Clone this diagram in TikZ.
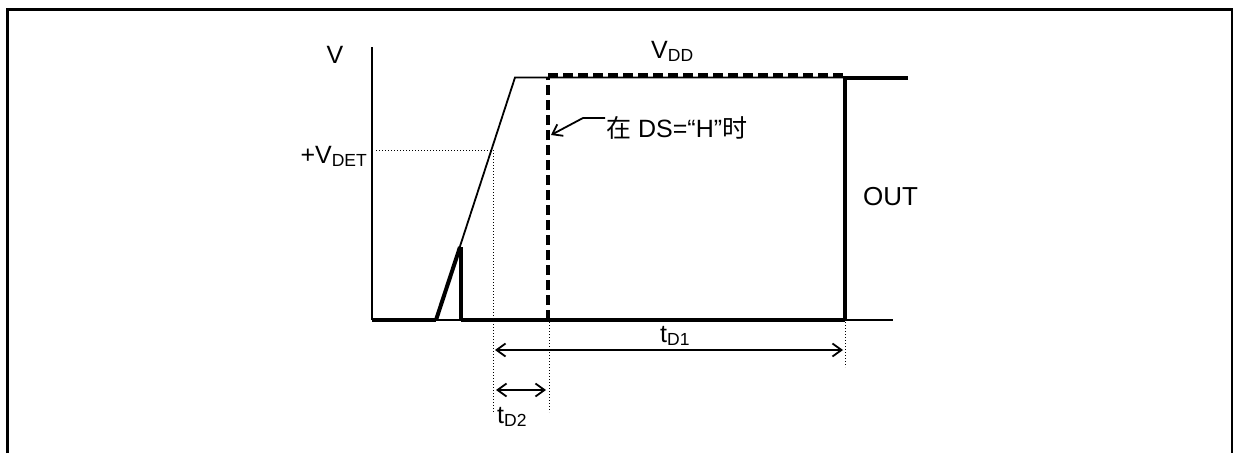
\documentclass[tikz,border=0pt]{standalone}
\usepackage{fontspec}
\setmainfont{Liberation Sans}
\newfontfamily\cjk{Noto Sans CJK SC}
\usetikzlibrary{arrows.meta}
\newcommand{\mysub}[1]{\raisebox{-0.3ex}{\fontsize{17.5}{19}\selectfont #1}}
\tikzset{
  thinln/.style={line width=1.8pt},
  thickln/.style={line width=4pt},
  dashthick/.style={line width=4pt, dash pattern=on 10pt off 5pt},
  dotln/.style={line width=1pt, dash pattern=on 1.2pt off 1.8pt},
  dimarrow/.style={line width=1.8pt, {Straight Barb[length=9pt,width=13pt]}-{Straight Barb[length=9pt,width=13pt]}},
  annarrow/.style={line width=1.8pt, -{Straight Barb[length=9pt,width=13pt]}},
  lbl/.style={inner sep=0pt, font=\fontsize{25}{29}\selectfont},
}
\begin{document}
\begin{tikzpicture}[x=1pt,y=-1pt]
\useasboundingbox (0,0) rectangle (1239,453);
% frame
\draw[line width=2.6pt] (7.5,453) -- (7.5,9.5) -- (1232,9.5) -- (1232,453);
% key points
\coordinate (ax0) at (372,47);
\coordinate (ax1) at (372,320);
\coordinate (r0) at (436,320);
\coordinate (rk) at (460,247);
\coordinate (rkb) at (461,320);
\coordinate (rt) at (515,77.5);
\coordinate (ot) at (845,77.5);
\coordinate (oe) at (908,77.5);
\coordinate (ob) at (845,320);
\coordinate (be) at (893,320);
\coordinate (dsb) at (548,320);
\coordinate (dst) at (548,77.5);
\coordinate (dsh) at (548,75);
\coordinate (dse) at (843,75);
\coordinate (vdet) at (376,150);
\coordinate (vdetx) at (493,150);
\coordinate (d1b) at (493,412);
\coordinate (d2t) at (549,322);
\coordinate (d2b) at (549,412);
\coordinate (d3t) at (845,322);
\coordinate (d3b) at (845,367);
\coordinate (a1l) at (495,350);
\coordinate (a1r) at (843,350);
\coordinate (a2l) at (496,390);
\coordinate (a2r) at (546,390);
\coordinate (annE) at (605,118);
\coordinate (annK) at (583,118);
\coordinate (annT) at (551,135);
% axis
\draw[thinln] (ax0) -- (ax1);
% baseline
\draw[thickln] (ax1) -- (r0);
\draw[thinln] (r0) -- (rkb);
\draw[thickln] (rkb) -- (ob);
\draw[thinln] (ob) -- (be);
% supply ramp
\draw[thinln, line join=miter] (r0) -- (rt) -- (ot);
% output
\draw[thickln, line cap=butt] (r0) -- (rk);
\draw[thickln] (461,247) -- (rkb);
\draw[thickln] (oe) -- (ot) -- (ob);
% dashed output (DS = H)
\draw[dashthick] (dsb) -- (dst);
\draw[dashthick] (dsh) -- (dse);
% dotted guides
\draw[dotln] (vdet) -- (vdetx) -- (d1b);
\draw[dotln] (d2t) -- (d2b);
\draw[dotln] (d3t) -- (d3b);
% dimension arrows
\draw[dimarrow] (a1l) -- (a1r);
\draw[dimarrow] (a2l) -- (a2r);
% annotation arrow
\draw[annarrow, line join=miter] (annE) -- (annK) -- (annT);
% labels
\node[lbl, anchor=base] (lv) at (335,63) {V};
\node[lbl, anchor=base east] (lvdet) at (367,163) {+V\mysub{DET}};
\node[lbl, anchor=base west] (lvdd) at (651,58) {V\mysub{DD}};
\node[lbl, anchor=base west, font=\fontsize{26}{30}\selectfont] (lout) at (863,205) {OUT};
\node[lbl, anchor=base west] (ltd1) at (660,342) {t\mysub{D1}};
\node[lbl, anchor=base west] (ltd2) at (497,423) {t\mysub{D2}};
\node[lbl, anchor=base west] (lds) at (606,137) {{\cjk 在} DS=“H”{\cjk 时}};
\end{tikzpicture}
\end{document}
